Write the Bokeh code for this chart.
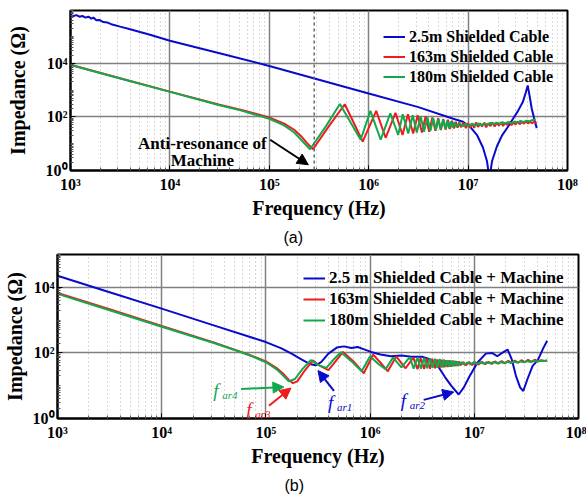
from bokeh.plotting import figure
from bokeh.layouts import column, row
from bokeh.models import (FixedTicker, CustomJSTickFormatter, Arrow, NormalHead,
                          Label, Span, Title, Range1d)
from bokeh.embed import file_html
from bokeh.resources import INLINE

# ---------------- data: panel (a) ----------------
a_blue_f = [1000, 1072, 1148, 1230, 1318, 1413, 1514, 1622, 1700, 1820, 1950, 2140, 2340, 2630,
            3160, 3980, 5010, 6310, 7940, 1.0e4, 3.16e4, 1.0e5, 3.16e5, 1.0e6, 3.16e6, 7.08e6,
            8.9e6, 1.05e7, 1.23e7, 1.41e7, 1.55e7, 1.64e7, 1.74e7, 1.95e7, 2.19e7, 2.51e7,
            2.82e7, 3.16e7, 3.55e7, 3.8e7, 3.98e7, 4.17e7, 4.37e7, 4.68e7, 4.9e7]
a_blue_z = [6.3e5, 5.75e5, 6.2e5, 5.4e5, 5.75e5, 5.0e5, 5.4e5, 4.6e5, 5.0e5, 4.0e5, 4.1e5, 3.4e5,
            3.3e5, 2.75e5, 2.3e5, 1.85e5, 1.45e5, 1.15e5, 8.9e4, 6.9e4, 2.35e4, 7.9e3, 2.4e3,
            740, 230, 85, 66, 42, 21, 7.2, 2.2, 0.5, 2.2, 8, 20, 42, 83, 160, 355, 790, 1480,
            560, 200, 71, 38]

a_red_f = [1000, 3162, 1e4, 3.16e4, 5.13e4, 1e5, 1.41e5, 1.78e5, 2.09e5, 2.4e5, 2.75e5, 3.98e5,
           5.75e5, 8.7e5, 1.19e6, 1.48e6, 1.86e6, 2.19e6,
           2.48e6, 2.8e6, 3.11e6, 3.43e6, 3.74e6, 4.06e6, 4.37e6, 4.69e6, 5.0e6, 5.32e6,
           5.63e6, 5.95e6, 6.26e6, 6.58e6, 6.89e6, 7.21e6, 7.52e6, 7.84e6, 8.15e6, 8.47e6,
           9.0e6, 9.5e6, 10e6, 10.5e6, 11e6, 11.5e6, 12e6, 12.6e6, 13.2e6, 13.8e6, 14.5e6,
           15.2e6, 16e6, 16.8e6, 17.6e6, 18.5e6, 19.4e6, 20.4e6, 21.4e6, 22.5e6, 23.6e6,
           24.8e6, 26e6, 27.3e6, 28.7e6, 30e6, 31.6e6, 33e6, 34.8e6, 36.5e6, 38.3e6, 40e6,
           42e6, 44e6, 46e6, 48e6, 49e6]
a_red_z = [8700, 2750, 870, 282, 186, 95, 56, 33, 19, 10.5, 6.2, 45,
           295, 12, 166, 16.6, 141, 21,
           126, 24, 115, 26, 105, 28, 95, 30, 89, 32, 83, 34, 78, 35.5, 72, 37, 66, 39, 62, 41,
           60, 38, 58, 40, 55, 39, 62, 42, 57, 44, 60, 41, 58, 45, 62, 44, 59, 47, 63, 46, 60,
           50, 64, 49, 62, 52, 66, 53, 64, 56, 67, 57, 65, 58, 66, 60, 62]

a_green_f = [1000, 3162, 1e4, 3.16e4, 5.13e4, 1e5, 1.41e5, 1.78e5, 2.09e5, 2.57e5, 3.72e5,
             5.13e5, 8.3e5, 1.04e6, 1.32e6, 1.65e6, 1.98e6,
             2.2e6, 2.5e6, 2.77e6, 3.05e6, 3.33e6, 3.6e6, 3.9e6, 4.18e6, 4.46e6, 4.75e6,
             5.03e6, 5.3e6, 5.6e6, 5.9e6, 6.16e6, 6.45e6, 6.73e6, 7.0e6, 7.3e6, 7.6e6,
             8.2e6, 8.8e6, 9.5e6, 10.2e6, 11e6, 11.8e6, 12.7e6, 13.6e6, 14.6e6, 15.7e6, 16.8e6,
             18e6, 19.3e6, 20.7e6, 22.2e6, 23.8e6, 25.5e6, 27.3e6, 29.3e6, 31.4e6, 33.7e6,
             36e6, 38.6e6, 41.4e6, 44.4e6, 47.6e6]
a_green_z = [8500, 2700, 850, 270, 174, 85, 48, 26, 14, 6.2, 45,
             300, 14, 166, 14, 135, 21,
             126, 24, 115, 26, 105, 28, 95, 30, 89, 32, 83, 34, 78, 35.5, 72, 37, 68, 40, 63, 42,
             58, 44, 55, 45, 56, 47, 57, 48, 58, 50, 60, 52, 61, 54, 63, 56, 65, 58, 67, 61, 70,
             64, 72, 68, 76, 80]

# ---------------- data: panel (b) ----------------
b_blue_f = [1000, 3162, 1e4, 3.16e4, 1e5, 1.41e5, 1.78e5, 2.19e5, 2.63e5, 3.0e5, 3.39e5, 3.98e5,
            4.79e5, 5.62e5, 6.6e5, 7.6e5, 8.9e5, 1.02e6, 1.26e6, 1.58e6, 2.0e6, 2.51e6, 3.16e6,
            3.8e6, 4.47e6, 5.25e6, 6.0e6, 7.08e6, 7.94e6, 8.9e6, 1.07e7, 1.29e7, 1.48e7, 1.66e7,
            1.9e7, 2.09e7, 2.29e7, 2.51e7, 2.75e7, 2.95e7, 3.24e7, 3.63e7, 4.07e7, 4.57e7, 5.0e7]
b_blue_z = [2.24e4, 7080, 2240, 690, 214, 138, 93, 63, 46, 42, 52, 95,
            145, 158, 141, 151, 126, 107, 89, 79, 83, 76, 76,
            63, 40, 18, 10, 5.4, 8.9, 18, 50, 95, 100, 79,
            105, 126, 63, 20, 8.9, 6.9, 16, 40, 60, 135, 234]

b_red_f = [1000, 3162, 1e4, 3.16e4, 5.0e4, 7.08e4, 1e5, 1.26e5, 1.45e5, 1.66e5, 1.82e5, 2.0e5,
           2.34e5, 2.82e5, 3.31e5, 3.98e5, 4.68e5, 5.5e5, 6.9e5, 8.7e5, 1.07e6, 1.26e6,
           1.48e6, 1.78e6, 2.19e6,
           2.6e6, 2.85e6, 3.05e6, 3.3e6, 3.5e6, 3.75e6, 3.95e6, 4.2e6, 4.4e6, 4.65e6, 4.85e6,
           5.1e6, 5.3e6, 5.55e6, 5.75e6, 6.0e6, 6.2e6, 6.45e6, 6.65e6, 6.9e6, 7.1e6, 7.35e6,
           7.8e6, 8.3e6, 8.9e6, 9.5e6, 10.2e6, 11e6, 11.8e6, 12.7e6, 13.7e6, 14.7e6, 15.8e6,
           17e6, 18.3e6, 19.7e6, 21.2e6, 22.8e6, 24.5e6, 26.4e6, 28.4e6, 30.5e6, 32.8e6,
           35.3e6, 38e6, 40.9e6, 44e6, 47e6, 50e6]
b_red_z = [6760, 2140, 660, 209, 126, 85, 55, 35, 24, 15, 12, 13.5,
           28, 59, 40, 30, 56, 107, 56, 24, 89, 50,
           27.5, 78, 34,
           72, 32, 69, 32.4, 68, 33, 66, 34, 63, 35.5, 62,
           36.3, 60, 37, 59, 38, 58, 39, 56, 40, 55, 42,
           52, 42, 53, 43, 52, 44, 54, 45, 53, 46, 55,
           47, 56, 48, 57, 49, 58, 50, 60, 52, 61,
           53, 62, 55, 60, 57, 59]

b_green_f = [1000, 3162, 1e4, 3.16e4, 5.0e4, 7.08e4, 1e5, 1.26e5, 1.45e5, 1.66e5, 1.9e5, 2.24e5,
             2.69e5, 3.16e5, 3.8e5, 4.47e5, 5.25e5, 6.6e5, 8.3e5, 1.0e6, 1.2e6, 1.41e6, 1.66e6,
             2.0e6,
             2.4e6, 2.62e6, 2.85e6, 3.07e6, 3.3e6, 3.52e6, 3.75e6, 3.97e6, 4.2e6, 4.42e6, 4.65e6,
             4.87e6, 5.1e6, 5.32e6, 5.55e6, 5.77e6, 6.0e6, 6.22e6, 6.45e6, 6.67e6, 6.9e6, 7.12e6,
             7.5e6, 8.0e6, 8.6e6, 9.2e6, 9.9e6, 10.6e6, 11.4e6, 12.3e6, 13.2e6, 14.2e6, 15.3e6,
             16.5e6, 17.8e6, 19.2e6, 20.7e6, 22.3e6, 24e6, 25.9e6, 27.9e6, 30e6, 32.3e6, 34.8e6,
             37.5e6, 40.4e6, 43.5e6, 46.9e6, 50e6]
b_green_z = [6300, 2000, 630, 200, 123, 83, 52, 32, 21, 13.5, 16, 32,
             60, 43, 35, 63, 105, 56, 27.5, 79, 46, 32, 72,
             36,
             74, 33, 72, 33, 71, 34, 69, 35, 66, 35.5, 65,
             36, 63, 37, 60, 38, 59, 39, 58, 40, 55, 42,
             52, 44, 51, 45, 52, 46, 51, 47, 52, 48, 53,
             48, 53, 49, 54, 50, 54, 51, 55, 52, 56, 53,
             57, 55, 58, 57, 59]

# ---------------- ticks ----------------
x_major = [1e3, 1e4, 1e5, 1e6, 1e7, 1e8]
y_major = [1, 1e2, 1e4]
x_minor = [m * 10 ** k for k in range(3, 8) for m in range(2, 10)]
y_minor = [m * 10 ** k for k in range(0, 6) for m in range(1, 10) if not (m == 1 and k % 2 == 0)]

BLUE = "#0a0acc"
RED = "#ee1c1c"
GREEN = "#12a84e"
SERIF = "Liberation Serif"

fmt = CustomJSTickFormatter(code="""
const sup = {"0":"\u2070","1":"\u00b9","2":"\u00b2","3":"\u00b3","4":"\u2074",
             "5":"\u2075","6":"\u2076","7":"\u2077","8":"\u2078","9":"\u2079"};
const e = Math.round(Math.log10(tick));
return "10" + String(e).split("").map(c => sup[c]).join("");
""")


def make_fig(width, height, ymax, left, right, top, bottom, ylab_standoff):
    p = figure(width=width, height=height, x_axis_type="log", y_axis_type="log",
               x_range=Range1d(1e3, 1e8), y_range=Range1d(1, ymax),
               output_backend="svg", toolbar_location=None,
               min_border_left=left, min_border_right=right,
               min_border_top=top, min_border_bottom=bottom)
    p.xaxis.ticker = FixedTicker(ticks=x_major, minor_ticks=x_minor)
    p.yaxis.ticker = FixedTicker(ticks=y_major, minor_ticks=y_minor)
    p.xaxis.formatter = fmt
    p.yaxis.formatter = fmt
    for ax in (p.xaxis, p.yaxis):
        ax.major_tick_in = 5
        ax.major_tick_out = 0
        ax.minor_tick_in = 3
        ax.minor_tick_out = 0
        ax.major_tick_line_color = "black"
        ax.minor_tick_line_color = "#555555"
        ax.axis_line_color = "black"
        ax.axis_line_width = 2
        ax.major_label_text_font = SERIF
        ax.major_label_text_font_style = "bold"
        ax.major_label_text_font_size = "16px"
        ax.major_label_text_color = "black"
        ax.axis_label_text_font = SERIF
        ax.axis_label_text_font_style = "bold"
        ax.axis_label_text_font_size = "20px"
        ax.axis_label_text_color = "black"
    p.xaxis.axis_label = "Frequency (Hz)"
    p.yaxis.axis_label = "Impedance (\u03a9)"
    p.xaxis.major_label_standoff = 5
    p.xaxis.axis_label_standoff = 1
    p.yaxis.major_label_standoff = 3
    p.yaxis.axis_label_standoff = ylab_standoff
    p.xgrid.grid_line_color = "#808080"
    p.ygrid.grid_line_color = "#808080"
    p.xgrid.grid_line_width = 1.5
    p.ygrid.grid_line_width = 1.5
    p.xgrid.minor_grid_line_color = "#b5b5b5"
    p.xgrid.minor_grid_line_dash = "1 3"
    p.xgrid.minor_grid_line_width = 1
    p.outline_line_color = "black"
    p.outline_line_width = 2
    p.background_fill_color = "white"
    return p


def style_legend(p, loc, row_h, fsize):
    lg = p.legend[0]
    lg.location = loc
    lg.background_fill_alpha = 0
    lg.border_line_color = None
    lg.padding = 0
    lg.margin = 0
    lg.spacing = 1
    lg.label_height = row_h
    lg.glyph_height = row_h
    lg.glyph_width = 22
    lg.label_standoff = 4
    lg.label_text_font = SERIF
    lg.label_text_font_style = "bold"
    lg.label_text_font_size = fsize
    lg.label_text_color = "black"


# ---------------- panel (a) ----------------
p1 = make_fig(586, 250, 9.2e5, 70, 19, 10, 73, 14)
p1.line(a_blue_f, a_blue_z, color=BLUE, line_width=2, legend_label="2.5m Shielded Cable")
p1.line(a_red_f, a_red_z, color=RED, line_width=2, legend_label="163m Shielded Cable")
p1.line(a_green_f, a_green_z, color=GREEN, line_width=2, legend_label="180m Shielded Cable")
style_legend(p1, (313, 84), 19, "16px")

p1.add_layout(Span(location=2.83e5, dimension="height", line_color="#666666",
                   line_dash="3 3", line_width=1.5))
p1.add_layout(Arrow(end=NormalHead(size=11, fill_color="black", line_color="black"),
                    x_start=1.02e5, y_start=14, x_end=2.47e5, y_end=1.64,
                    line_color="black", line_width=2))
for txt, yy in (("Anti-resonance of", 10.5), ("Machine", 2.45)):
    p1.add_layout(Label(x=2.12e4, y=yy, text=txt, text_align="center", text_baseline="middle",
                        text_font=SERIF, text_font_style="bold", text_font_size="17px",
                        text_color="black"))
p1.add_layout(Title(text="(a)", align="left", offset=213, text_font="Liberation Sans",
                    text_font_style="normal", text_font_size="16px", text_color="black"),
              "below")

# ---------------- panel (b) ----------------
p2 = make_fig(586, 248, 1e5, 56, 8, 4, 77, 4)
p2.line(b_blue_f, b_blue_z, color=BLUE, line_width=2,
        legend_label="2.5 m Shielded Cable + Machine")
p2.line(b_red_f, b_red_z, color=RED, line_width=2,
        legend_label="163m Shielded Cable + Machine")
p2.line(b_green_f, b_green_z, color=GREEN, line_width=2,
        legend_label="180m Shielded Cable + Machine")
style_legend(p2, (246, 88), 20, "17px")

arrows_b = [
    (GREEN, 5.78e4, 7.9, 1.49e5, 9.1),
    (RED, 1.07e5, 2.45, 1.74e5, 8.5),
    (BLUE, 4.5e5, 6.9, 3.16e5, 29),
    (BLUE, 3.27e6, 3.7, 6.35e6, 6.4),
]
for c, xs, ys, xe, ye in arrows_b:
    p2.add_layout(Arrow(end=NormalHead(size=11, fill_color=c, line_color=c),
                        x_start=xs, y_start=ys, x_end=xe, y_end=ye,
                        line_color=c, line_width=2))

f_labels = [
    ("ar4", GREEN, 3.12e4, 6.9),
    ("ar3", RED, 6.46e4, 1.86),
    ("ar1", BLUE, 3.94e5, 3.01),
    ("ar2", BLUE, 1.97e6, 3.46),
]
for sub, c, xx, yy in f_labels:
    p2.add_layout(Label(x=xx, y=yy, text="f", text_align="left", text_baseline="middle",
                        text_font=SERIF, text_font_style="italic", text_font_size="19px",
                        text_color=c))
    p2.add_layout(Label(x=xx, y=yy, x_offset=9, y_offset=-4, text=sub, text_align="left",
                        text_baseline="middle", text_font=SERIF, text_font_style="italic",
                        text_font_size="11px", text_color=c))
p2.add_layout(Title(text="(b)", align="left", offset=227, text_font="Liberation Sans",
                    text_font_style="normal", text_font_size="16px", text_color="black"),
              "below")

layout = column(row(p1), row(p2), spacing=0)
open("out.html", "w").write(file_html(layout, INLINE))
